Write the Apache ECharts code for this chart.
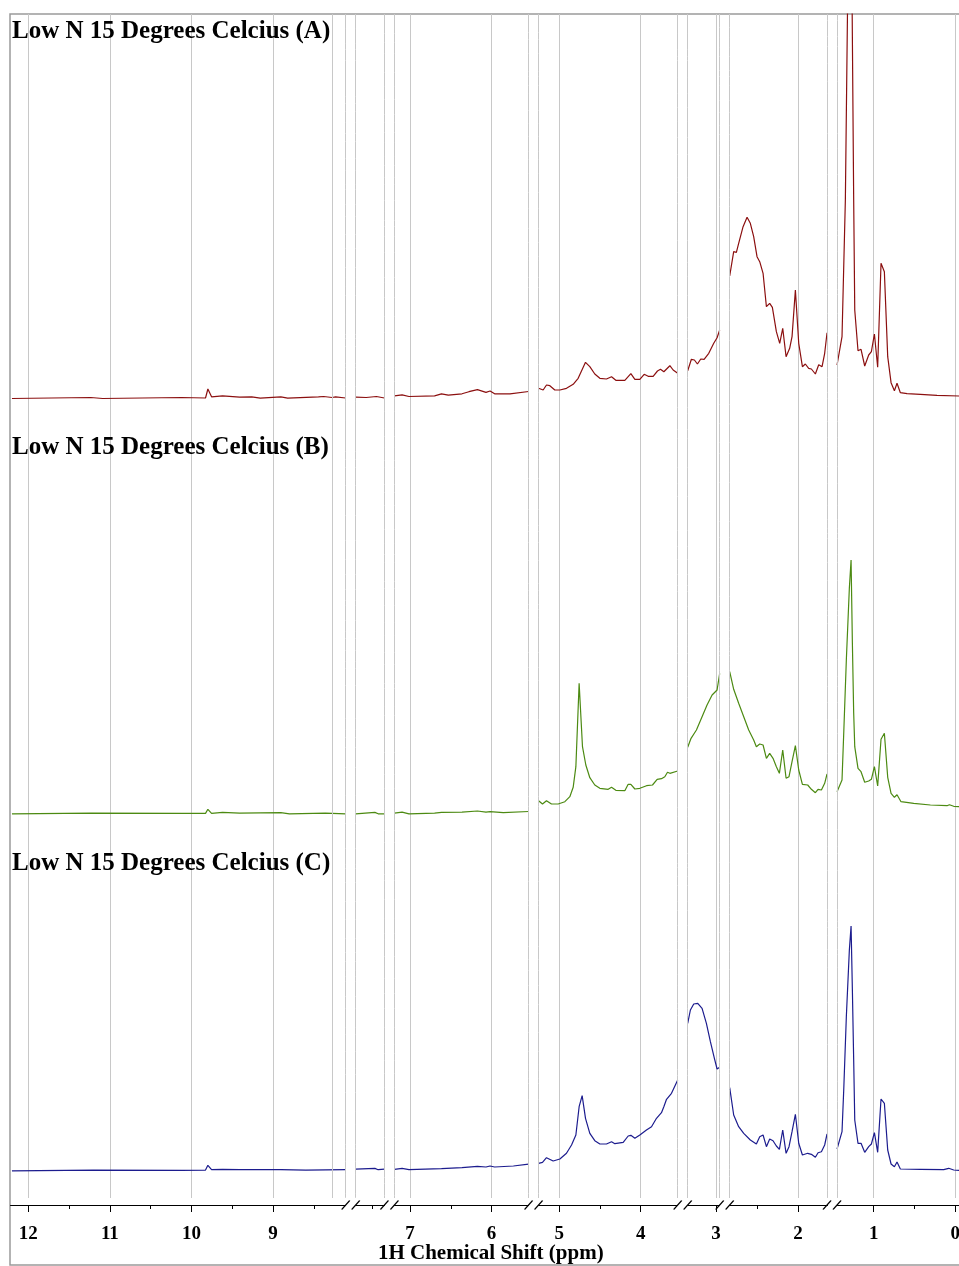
<!DOCTYPE html>
<html>
<head>
<meta charset="utf-8">
<script src="https://cdn.jsdelivr.net/npm/echarts@6/dist/echarts.min.js"></script>
<style>html,body{margin:0;padding:0;background:#fff}#chart{width:959px;height:1266px}</style>
</head>
<body>
<div id="chart"></div>
<script>
// ---------------- data ----------------
const panelTitles = ['Low N 15 Degrees Celcius (A)', 'Low N 15 Degrees Celcius (B)', 'Low N 15 Degrees Celcius (C)'];
const axisTickValues = [12, 11, 10, 9, 7, 6, 5, 4, 3, 2, 1, 0];
const axisMinorTickValues = [11.5, 10.5, 9.5, 8.5, 7.5, 6.5, 4.5, 2.5, 0.5];
const axisTitle = '1H Chemical Shift (ppm)';
// excluded (cut-out) chemical shift regions, ppm
const excludedRegions = [[7.705, 8.110], [7.191, 7.353], [5.252, 5.547], [3.348, 3.547], [2.838, 2.956], [1.449, 1.645]];
const extraGuideLines = [8.276];

// spectrum A (ppm, intensity) per retained region
const spectrumA = [
  [[12.2,-1.5],[11.234,-0.5],[11.088,-1.5],[10.12,-0.5],[9.828,-1],[9.799,8],[9.754,0.2],[9.619,1.2],[9.41,-0.2],[9.262,0.2],[9.157,-1.2],[8.905,0.2],[8.821,-1.2],[8.444,0.2],[8.381,0.5],[8.276,-0.5],[8.234,0.2],[8.110,-1]],
  [[7.705,-0.2],[7.577,-0.5],[7.451,0.5],[7.353,-1]],
  [[7.191,1.2],[7.097,2.2],[7.013,0.5],[6.699,1.2],[6.614,3.2],[6.531,1.9],[6.363,3.2],[6.278,5.3],[6.174,7.4],[6.069,4.6],[6.019,6],[5.963,3.2],[5.775,3.2],[5.547,5.5]],
  [[5.252,8.7],[5.196,7],[5.155,12],[5.114,11.3],[5.053,7],[4.991,7],[4.910,8.7],[4.828,12.7],[4.767,18.7],[4.677,34.7],[4.624,30.3],[4.563,23],[4.501,18.7],[4.420,18],[4.358,20.3],[4.305,16.7],[4.195,16.7],[4.121,23.3],[4.072,17.7],[4.011,17.7],[3.958,22.7],[3.909,20.7],[3.848,20.7],[3.795,26],[3.758,27.7],[3.717,25.3],[3.643,31.3],[3.603,27],[3.547,23.7]],
  [[3.348,26.3],[3.303,37.7],[3.266,37],[3.229,33],[3.188,38],[3.147,37.7],[3.090,43.7],[3.029,53.7],[2.988,59.3],[2.956,67]],
  [[2.838,121],[2.789,145.3],[2.756,144.7],[2.728,153.7],[2.674,170.3],[2.625,179.7],[2.585,173.7],[2.544,160.3],[2.503,140.3],[2.470,135.3],[2.429,123.7],[2.388,90.3],[2.348,93.7],[2.315,89.7],[2.266,65.3],[2.225,53.7],[2.188,68.7],[2.147,40.3],[2.103,48.7],[2.074,60.3],[2.033,107],[1.992,53.7],[1.947,30.3],[1.911,33],[1.870,28.7],[1.837,28],[1.788,23],[1.747,32.3],[1.706,30.3],[1.674,43.7],[1.645,64.3]],
  [[1.449,32],[1.429,32],[1.388,60.3],[1.347,197],[1.316,420],[1.292,470],[1.267,420],[1.245,197],[1.232,87],[1.192,46.3],[1.155,47.7],[1.110,31],[1.061,42],[1.028,45.3],[0.991,63],[0.951,29.7],[0.910,133.7],[0.869,125.3],[0.828,40.3],[0.787,14.3],[0.746,6.3],[0.714,13.7],[0.673,4.3],[0.591,3.3],[0.428,2.7],[0.224,1.7],[-0.05,1],[-0.2,1]]
];

const spectrumB = [
  [[12.2,-0.8],[11.23,-0.1],[10.12,-0.4],[9.828,-0.4],[9.799,3.7],[9.754,-0.4],[9.619,0.6],[9.41,-0.1],[8.905,0.3],[8.80,-0.8],[8.36,-0.1],[8.110,-0.8]],
  [[7.705,-0.8],[7.47,0.6],[7.43,-0.8],[7.353,-0.8]],
  [[7.191,-0.1],[7.097,0.9],[7.013,-0.8],[6.699,-0.1],[6.614,0.6],[6.363,0.9],[6.174,2],[6.069,0.9],[6.019,1.3],[5.857,0.3],[5.547,1.5]],
  [[5.252,12.3],[5.204,9],[5.155,12.3],[5.094,9],[5.012,9],[4.930,11.3],[4.869,16.3],[4.828,25.7],[4.795,46.3],[4.755,129.7],[4.714,66.3],[4.673,48],[4.624,35.3],[4.563,28],[4.501,24.7],[4.399,23.7],[4.358,25.7],[4.305,22.7],[4.195,22.3],[4.154,28.7],[4.121,28.7],[4.072,24],[4.011,24.7],[3.929,27.3],[3.856,28],[3.799,33.7],[3.746,34.3],[3.705,36.3],[3.672,40.7],[3.643,39.7],[3.547,42]],
  [[3.348,65.7],[3.307,74.7],[3.241,83],[3.172,96.3],[3.111,108],[3.049,118],[2.988,123],[2.956,139.7]],
  [[2.838,141.3],[2.789,123.7],[2.728,109.7],[2.666,96.3],[2.605,83],[2.544,73],[2.511,66.3],[2.470,69],[2.429,68],[2.388,54.7],[2.348,59.7],[2.307,54.7],[2.266,46.3],[2.229,39.7],[2.188,63],[2.147,34.7],[2.111,36.3],[2.074,51.3],[2.033,67.3],[1.992,43],[1.947,28.7],[1.882,28],[1.837,23.7],[1.788,20.3],[1.755,23.7],[1.714,23],[1.674,29.7],[1.645,39]],
  [[1.449,21.3],[1.429,21.3],[1.388,33],[1.367,79.7],[1.335,153],[1.298,225],[1.277,253],[1.261,170],[1.245,100],[1.232,66.3],[1.192,44.7],[1.155,41.3],[1.110,30.7],[1.061,32],[1.028,33.7],[0.991,46.3],[0.951,27],[0.910,73.7],[0.869,79.7],[0.828,35.7],[0.787,19.7],[0.746,15.7],[0.714,18.3],[0.665,11.3],[0.509,9.7],[0.305,8],[0.101,7.3],[0.072,8.3],[0.019,6.7],[-0.05,6.3],[-0.2,6]]
];

const spectrumC = [
  [[12.2,-0.8],[11.2,-0.1],[10.12,-0.4],[9.828,-0.1],[9.799,4.7],[9.754,0.3],[9.619,0.6],[9.41,0.3],[8.905,0.3],[8.6,-0.1],[8.110,0.3]],
  [[7.705,0.9],[7.47,1.6],[7.43,0.3],[7.353,0.9]],
  [[7.191,0.6],[7.097,1.6],[7.013,0.3],[6.614,1.3],[6.363,2.3],[6.174,3.7],[6.069,3],[6.019,4],[5.963,3],[5.733,4],[5.547,5.8]],
  [[5.252,6.7],[5.204,7.7],[5.155,12.3],[5.073,9],[4.991,11],[4.910,16.7],[4.848,25],[4.795,35],[4.755,63.3],[4.718,74.3],[4.677,51.7],[4.624,36.7],[4.563,29.3],[4.501,26],[4.420,26],[4.358,28.3],[4.317,26.3],[4.215,27.7],[4.154,34],[4.121,34.7],[4.072,31.7],[4.011,35],[3.930,40],[3.868,43.3],[3.807,51.7],[3.746,57.3],[3.717,63.3],[3.684,70.7],[3.623,76.7],[3.547,90]],
  [[3.348,146.7],[3.315,160],[3.274,166],[3.225,166.7],[3.172,161.7],[3.119,146.7],[3.070,128.3],[3.021,111.7],[2.988,101],[2.956,102.7]],
  [[2.838,82.3],[2.789,55],[2.728,43.3],[2.666,36.7],[2.585,30],[2.511,26],[2.470,33.3],[2.429,35],[2.388,23.3],[2.348,31],[2.307,29.3],[2.266,24],[2.229,20.7],[2.188,40],[2.147,16.7],[2.111,23.3],[2.074,38.3],[2.033,55.7],[1.992,26.7],[1.947,15],[1.882,16.7],[1.837,15.7],[1.788,12.7],[1.755,17.3],[1.714,18.3],[1.674,25],[1.645,36]],
  [[1.449,21],[1.429,21.7],[1.388,38.3],[1.367,80],[1.335,153.3],[1.298,220],[1.277,244],[1.261,180],[1.245,110],[1.232,50],[1.192,26.7],[1.155,26.7],[1.110,17.7],[1.061,23.3],[1.028,26],[0.991,37.3],[0.951,17.7],[0.910,71],[0.869,66.7],[0.828,20],[0.787,6],[0.746,3.3],[0.714,8],[0.673,1],[0.428,0.7],[0.142,0.3],[0.081,1.7],[0.019,0],[-0.05,-0.3],[-0.2,-0.3]]
];

const seriesColors = ['#8B0F0F', '#4C8A12', '#1C1C8E'];

// ---------------- layout / style ----------------
const FONT = "'Times New Roman', 'Liberation Serif', serif";
const X_MIN = -0.2, X_MAX = 12.224, GAP = 0.1225;
const PLOT_LEFT = 10, PLOT_WIDTH = 961.6;
const panelGrids = [
  { top: 14, height: 416, ymin: -33, ymax: 383, titleTop: 19 },
  { top: 430, height: 416, ymin: -33, ymax: 383, titleTop: 435 },
  { top: 846, height: 352, ymin: -28, ymax: 324, titleTop: 851 }
];

function joinSegments(segs) {
  const out = [];
  segs.forEach((s, i) => {
    if (i > 0) {
      const prev = segs[i - 1];
      out.push([(prev[prev.length - 1][0] + s[0][0]) / 2, null]);
    }
    s.forEach(p => out.push(p));
  });
  return out;
}

const breakList = excludedRegions.map(([s, e]) => ({ start: s, end: e, gap: GAP }));

function spectrumX(gridIndex, withMinorTicks) {
  return {
    type: 'value', gridIndex, inverse: true, min: X_MIN, max: X_MAX, position: 'bottom',
    offset: withMinorTicks ? 7 : 0,
    show: true,
    breaks: breakList.map(b => Object.assign({}, b)),
    breakArea: { show: false },
    axisLine: { show: false, onZero: false },
    axisTick: withMinorTicks
      ? { show: true, length: 4, customValues: axisMinorTickValues, lineStyle: { color: '#000', width: 1 } }
      : { show: false },
    axisLabel: { show: false },
    splitLine: { show: false }
  };
}
function hiddenY(gridIndex, min, max) {
  return { type: 'value', gridIndex, min, max, show: false, splitLine: { show: false } };
}

const grids = [
  { left: PLOT_LEFT, top: 14, width: PLOT_WIDTH, height: 1184, outerBoundsMode: 'none', containLabel: false },
  ...panelGrids.map(p => ({ left: PLOT_LEFT, top: p.top, width: PLOT_WIDTH, height: p.height, outerBoundsMode: 'none', containLabel: false })),
  { left: PLOT_LEFT, top: 14, width: 1040, height: 1251, show: true, borderColor: '#9a9a9a', borderWidth: 1.5, backgroundColor: 'rgba(0,0,0,0)', outerBoundsMode: 'none', containLabel: false }
];

const xAxes = [
  {
    type: 'value', gridIndex: 0, inverse: true, min: X_MIN, max: X_MAX, offset: 7, position: 'bottom',
    breaks: breakList.map(b => Object.assign({}, b)),
    breakArea: {
      show: true,
      itemStyle: { color: 'rgba(255,255,255,0)', borderColor: '#c8c8c8', borderWidth: 1, borderType: 'solid', opacity: 1 },
      zigzagAmplitude: 0,
      expandOnClick: false
    },
    axisLine: { show: true, onZero: false, lineStyle: { color: '#000', width: 1 } },
    axisTick: { show: true, length: 7, customValues: axisTickValues, lineStyle: { color: '#000', width: 1 } },
    minorTick: { show: false },
    axisLabel: {
      customValues: axisTickValues, hideOverlap: false,
      formatter: v => String(Math.round(v)),
      fontFamily: FONT, fontWeight: 'bold', fontSize: 19, color: '#000', margin: 20
    },
    splitLine: { show: true, lineStyle: { color: '#c8c8c8', width: 1 } },
    name: axisTitle, nameLocation: 'middle', nameGap: 38, nameMoveOverlap: false,
    nameTextStyle: { fontFamily: FONT, fontWeight: 'bold', fontSize: 21, color: '#000' }
  },
  spectrumX(1, false), spectrumX(2, false), spectrumX(3, true),
  { type: 'value', gridIndex: 4, min: 0, max: 1, show: false, splitLine: { show: false } }
];

const yAxes = [
  hiddenY(0, 0, 1),
  ...panelGrids.map((p, i) => hiddenY(i + 1, p.ymin, p.ymax)),
  hiddenY(4, 0, 1)
];

const spectra = [spectrumA, spectrumB, spectrumC];
const series = spectra.map((segs, i) => ({
  type: 'line', xAxisIndex: i + 1, yAxisIndex: i + 1,
  data: joinSegments(segs),
  showSymbol: false, symbol: 'none', connectNulls: false, clip: true,
  lineStyle: { color: seriesColors[i], width: 1.2 },
  itemStyle: { color: seriesColors[i] },
  silent: true, animation: false
}));
series.push({
  type: 'line', xAxisIndex: 0, yAxisIndex: 0, data: [], silent: true, animation: false,
  markLine: {
    symbol: 'none', silent: true, animation: false, label: { show: false },
    lineStyle: { color: '#c8c8c8', width: 1, type: 'solid' },
    data: extraGuideLines.map(v => ({ xAxis: v }))
  },
  markPoint: {
    silent: true, animation: false,
    symbol: 'path://M0,10L8,0M10,10L18,0', symbolSize: [18, 9], symbolOffset: [0, 7],
    itemStyle: { color: 'none', borderColor: '#000', borderWidth: 1 },
    label: { show: false },
    data: excludedRegions.map(([s, e]) => ({ coord: [(s + e) / 2, 0] }))
  }
});

const chart = echarts.init(document.getElementById('chart'), null, { renderer: 'canvas' });
chart.setOption({
  animation: false,
  backgroundColor: '#fff',
  title: panelTitles.map((t, i) => ({
    text: t, left: 12, top: panelGrids[i].titleTop, padding: 0,
    textStyle: { fontFamily: FONT, fontWeight: 'bold', fontSize: 25, color: '#000' }
  })),
  grid: grids,
  xAxis: xAxes,
  yAxis: yAxes,
  series
});
</script>
</body>
</html>
